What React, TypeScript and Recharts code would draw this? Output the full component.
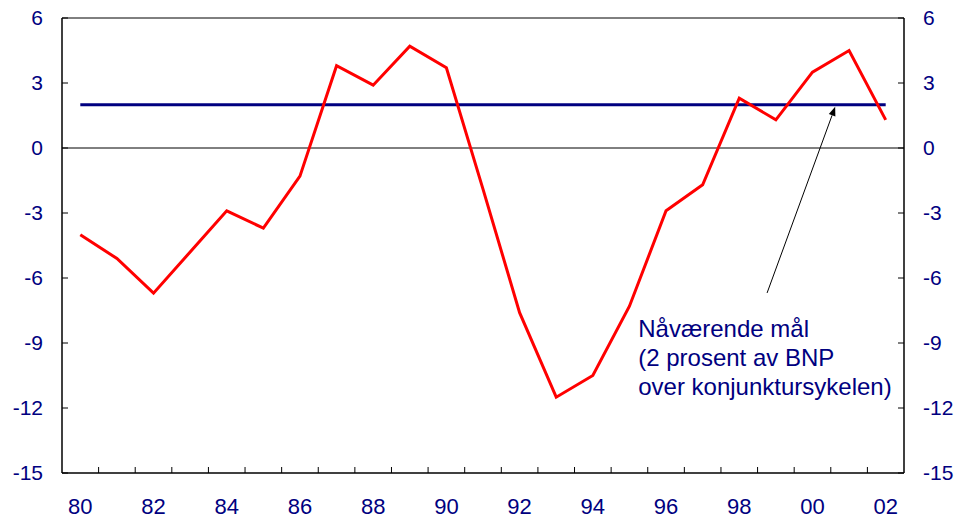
import { LineChart, Line, XAxis, YAxis, ReferenceLine, ReferenceDot } from 'recharts';

const years = [1980, 1981, 1982, 1983, 1984, 1985, 1986, 1987, 1988, 1989, 1990, 1991, 1992, 1993, 1994, 1995, 1996, 1997, 1998, 1999, 2000, 2001, 2002];
const balance = [-4.0, -5.1, -6.7, -4.8, -2.9, -3.7, -1.3, 3.8, 2.9, 4.7, 3.7, -1.9, -7.6, -11.5, -10.5, -7.3, -2.9, -1.7, 2.3, 1.3, 3.5, 4.5, 1.3];
const target = [2, 2, 2, 2, 2, 2, 2, 2, 2, 2, 2, 2, 2, 2, 2, 2, 2, 2, 2, 2, 2, 2, 2];

const yTicks = [-15, -12, -9, -6, -3, 0, 3, 6];
const labelYears = [1980, 1982, 1984, 1986, 1988, 1990, 1992, 1994, 1996, 1998, 2000, 2002];
const minorTicks = [1980.5, 1981.5, 1982.5, 1983.5, 1984.5, 1985.5, 1986.5, 1987.5, 1988.5, 1989.5, 1990.5, 1991.5, 1992.5, 1993.5, 1994.5, 1995.5, 1996.5, 1997.5, 1998.5, 1999.5, 2000.5, 2001.5];

const noteLines = ['Nåværende mål', '(2 prosent av BNP', 'over konjunktursykelen)'];

const data = years.map((year, i) => ({ year, balance: balance[i], target: target[i] }));
const xTicks = [...labelYears, ...minorTicks].sort((a, b) => a - b);

const navy = '#000080';
const font = '"Liberation Sans", Arial, sans-serif';
const GAP = 19; // distance from axis line to label

const LeftTick = (p: any) => (
    <g>
        <line x1={p.x + GAP} y1={p.y} x2={p.x + GAP + 6} y2={p.y} stroke="#000" strokeWidth={1} />
        <text x={p.x} y={p.y} dy={7} textAnchor="end" fill={navy} fontSize={21} fontFamily={font}>{p.payload.value}</text>
    </g>
);

const RightTick = (p: any) => (
    <g>
        <line x1={p.x - GAP} y1={p.y} x2={p.x - GAP - 6} y2={p.y} stroke="#000" strokeWidth={1} />
        <text x={p.x} y={p.y} dy={7} textAnchor="start" fill={navy} fontSize={21} fontFamily={font}>{p.payload.value}</text>
    </g>
);

const YearTick = (p: any) => {
    const v = p.payload.value;
    if (v % 1 !== 0) {
        return <line x1={p.x} y1={p.y} x2={p.x} y2={p.y - 6} stroke="#000" strokeWidth={1} />;
    }
    return (
        <text x={p.x} y={p.y} dy={41} textAnchor="middle" fill={navy} fontSize={22} fontFamily={font}>
            {String(v).slice(2)}
        </text>
    );
};

const Arrow = (p: any) => {
    const { x1, y1, x2, y2 } = p;
    const a = Math.atan2(y2 - y1, x2 - x1);
    const L = 9;
    const W = 3.5;
    const bx = x2 - L * Math.cos(a);
    const by = y2 - L * Math.sin(a);
    const pts = `${x2},${y2} ${bx + W * Math.sin(a)},${by - W * Math.cos(a)} ${bx - W * Math.sin(a)},${by + W * Math.cos(a)}`;
    return (
        <g>
            <line x1={x1} y1={y1} x2={bx} y2={by} stroke="#000" strokeWidth={1} />
            <polygon points={pts} fill="#000" />
        </g>
    );
};

const Note = (p: any) => (
    <text x={p.cx} y={p.cy} fill={navy} fontSize={24} fontFamily={font}>
        {noteLines.map((t, i) => (
            <tspan key={i} x={p.cx} dy={i === 0 ? 0 : 29}>{t}</tspan>
        ))}
    </text>
);

export default function App() {
    return (
        <div style={{ position: 'absolute', left: 0, top: 0, width: 961, height: 519, background: '#fff' }}>
            <LineChart width={961} height={519} data={data} margin={{ top: 18, right: 0, bottom: 0, left: 0 }}>
                <XAxis
                    dataKey="year"
                    type="number"
                    domain={[1979.5, 2002.5]}
                    ticks={xTicks}
                    tick={YearTick}
                    tickLine={false}
                    tickSize={0}
                    tickMargin={0}
                    height={46}
                    interval={0}
                    axisLine={{ stroke: '#000', strokeWidth: 1.5 }}
                />
                <YAxis
                    yAxisId="left"
                    domain={[-15, 6]}
                    ticks={yTicks}
                    width={62}
                    tick={LeftTick}
                    tickSize={0}
                    tickMargin={GAP}
                    tickLine={false}
                    axisLine={{ stroke: '#000', strokeWidth: 1.5 }}
                    interval={0}
                />
                <YAxis
                    yAxisId="right"
                    orientation="right"
                    domain={[-15, 6]}
                    ticks={yTicks}
                    width={57}
                    tick={RightTick}
                    tickSize={0}
                    tickMargin={GAP}
                    tickLine={false}
                    axisLine={{ stroke: '#000', strokeWidth: 1.5 }}
                    interval={0}
                />
                <ReferenceLine yAxisId="left" y={6} stroke="#000" strokeWidth={1} />
                <ReferenceLine yAxisId="left" y={0} stroke="#000" strokeWidth={1} />
                <Line yAxisId="right" type="linear" dataKey="target" stroke={navy} strokeWidth={3} dot={false} isAnimationActive={false} />
                <Line yAxisId="left" type="linear" dataKey="balance" stroke="#ff0000" strokeWidth={3} dot={false} isAnimationActive={false} />
                <ReferenceLine
                    yAxisId="left"
                    segment={[{ x: 1998.76, y: -6.69 }, { x: 2000.62, y: 1.9 }]}
                    shape={Arrow}
                />
                <ReferenceDot yAxisId="left" x={1995.24} y={-8.72} r={0} shape={Note} />
            </LineChart>
        </div>
    );
}
